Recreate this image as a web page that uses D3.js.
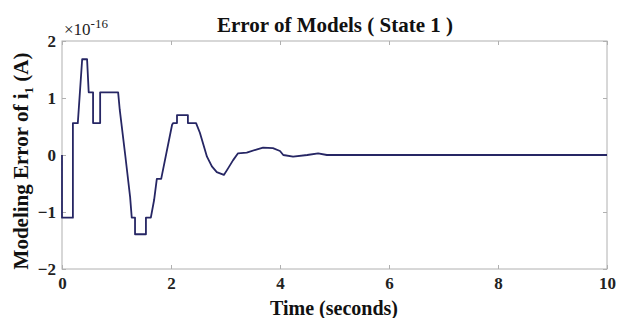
<!DOCTYPE html>
<html lang="en">
<head>
    <meta charset="UTF-8">
    <title>Error of Models</title>
    <script src="https://d3js.org/d3.v7.min.js"></script>
    <style>
        body { margin: 0; background: #fff; }
        text { font-family: "Liberation Serif", "Times New Roman", serif; }
    </style>
</head>
<body>
<svg width="619" height="318"></svg>

<script>
    // time (s) and modeling error (x1e-16 A)
    const time = [0, 0, 0.2, 0.2, 0.29, 0.37, 0.46, 0.49, 0.51, 0.57, 0.57, 0.70, 0.70, 1.03,
        1.06, 1.16, 1.25, 1.28, 1.34, 1.34, 1.54, 1.54, 1.63, 1.69, 1.74, 1.82,
        2.02, 2.04, 2.11, 2.11, 2.31, 2.31, 2.46, 2.53, 2.66, 2.75, 2.84, 2.97,
        3.05, 3.14, 3.23, 3.39, 3.58, 3.69, 3.87, 4.0, 4.06, 4.24, 4.5, 4.7, 4.86, 10];
    const error = [0, -1.1, -1.1, 0.56, 0.56, 1.68, 1.68, 1.1, 1.1, 1.1, 0.56, 0.56, 1.1, 1.1,
        0.79, 0.0, -0.74, -1.1, -1.1, -1.39, -1.39, -1.1, -1.1, -0.79, -0.42, -0.42,
        0.53, 0.56, 0.56, 0.70, 0.70, 0.56, 0.56, 0.39, -0.03, -0.2, -0.3, -0.35,
        -0.23, -0.09, 0.03, 0.04, 0.1, 0.13, 0.12, 0.07, 0.0, -0.03, 0.0, 0.03, 0.0, 0];

    const xTicks = [0, 2, 4, 6, 8, 10];
    const yTicks = [-2, -1, 0, 1, 2];

    const svg = d3.select("svg");
    const m = {left: 62, right: 12, top: 41, bottom: 49};
    const w = 619 - m.left - m.right, h = 318 - m.top - m.bottom;

    const x = d3.scaleLinear().domain([0, 10]).range([m.left, m.left + w]);
    const y = d3.scaleLinear().domain([-2, 2]).range([m.top + h, m.top]);

    // frame
    svg.append("rect")
        .attr("x", m.left).attr("y", m.top)
        .attr("width", w).attr("height", h)
        .attr("fill", "none").attr("stroke", "#b0b0b0");

    // axes, ticks inward
    const styleAxis = g => {
        g.select(".domain").remove();
        g.selectAll(".tick line").attr("stroke", "#b0b0b0");
        g.selectAll(".tick text")
            .attr("font-size", "17px").attr("font-weight", "bold")
            .attr("fill", "#222");
    };
    svg.append("g").attr("transform", `translate(0,${m.top + h})`)
        .call(d3.axisBottom(x).tickValues(xTicks).tickSize(-4).tickPadding(8).tickFormat(d3.format("d")))
        .call(styleAxis);
    svg.append("g").attr("transform", `translate(0,${m.top})`)
        .call(d3.axisTop(x).tickValues(xTicks).tickSize(-4).tickFormat(""))
        .call(styleAxis);
    svg.append("g").attr("transform", `translate(${m.left},0)`)
        .call(d3.axisLeft(y).tickValues(yTicks).tickSize(-4).tickPadding(6).tickFormat(d3.format("d")))
        .call(styleAxis);
    svg.append("g").attr("transform", `translate(${m.left + w},0)`)
        .call(d3.axisRight(y).tickValues(yTicks).tickSize(-4).tickFormat(""))
        .call(styleAxis);

    // curve
    const line = d3.line().x((d, i) => x(time[i])).y(d => y(d));
    svg.append("path")
        .attr("d", line(error))
        .attr("fill", "none")
        .attr("stroke", "#262664")
        .attr("stroke-width", 1.8)
        .attr("stroke-linejoin", "round");

    // exponent
    const ex = svg.append("text").attr("x", m.left + 2).attr("y", 35)
        .attr("font-size", "17px").attr("fill", "#222");
    ex.append("tspan").text("\u00d710");
    ex.append("tspan").attr("dy", -7).attr("font-size", "13px").text("-16");

    // title
    svg.append("text").attr("x", 335).attr("y", 32)
        .attr("text-anchor", "middle")
        .attr("font-size", "21px").attr("font-weight", "bold").attr("fill", "#111")
        .text("Error of Models ( State 1 )");

    // x label
    svg.append("text").attr("x", 334).attr("y", 315)
        .attr("text-anchor", "middle")
        .attr("font-size", "20px").attr("font-weight", "bold").attr("fill", "#111")
        .text("Time (seconds)");

    // y label
    const yl = svg.append("text")
        .attr("transform", `translate(28,161) rotate(-90)`)
        .attr("text-anchor", "middle")
        .attr("font-size", "21px").attr("font-weight", "bold").attr("fill", "#111");
    yl.append("tspan").text("Modeling Error of  i");
    yl.append("tspan").attr("dy", 5).attr("font-size", "13px").text("1");
    yl.append("tspan").attr("dy", -5).text(" (A)");
</script>
</body>
</html>
